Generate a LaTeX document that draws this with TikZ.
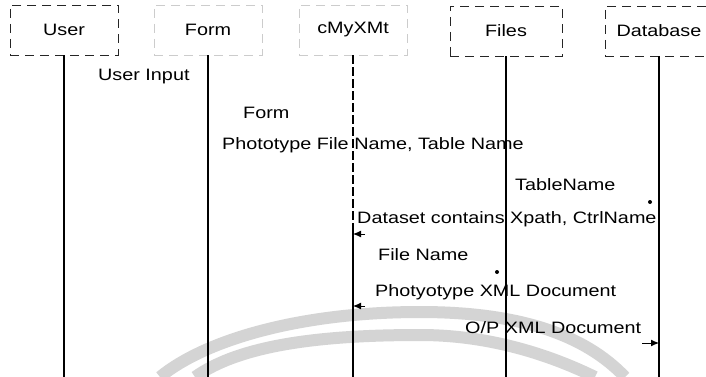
\documentclass[tikz,border=0pt]{standalone}
\usepackage{fontspec}
\setmainfont{Liberation Sans}
\usetikzlibrary{arrows.meta}
% labels are set slightly widened
\newcommand{\wtxt}[1]{\scalebox{1.2}[1]{#1}}
\begin{document}
\begin{tikzpicture}[x=1pt,y=-1pt,
  lbl/.style={font=\fontsize{16.5}{19}\selectfont, inner sep=0pt},
  msglbl/.style={lbl, anchor=west},
  head/.style={lbl, draw=black!85, line width=0.8pt, dash pattern=on 9pt off 6pt,
               minimum width=108pt, minimum height=50pt},
  faint/.style={draw=black!20},
  life/.style={line width=1.2pt},
  tip/.style={-{Latex[length=8pt,width=7pt]}, line width=1pt},
  watermark/.style={black!17, line width=12pt}
]
\useasboundingbox (0,0) rectangle (706,377);
\clip (0,0) rectangle (706,377);
\fill[white] (0,0) rectangle (706,377);

% watermark arcs in the background
\draw[watermark] (160,377) .. controls (205,340) and (300,312) .. (420,312)
                 .. controls (520,312) and (585,335) .. (625,377);
\draw[watermark] (195,377) .. controls (240,345) and (320,335) .. (420,335)
                 .. controls (490,335) and (550,355) .. (595,377);

% participants
\node[head] (user) at (64,30) {\wtxt{User}};
\node[head, faint] (form) at (208,30) {\wtxt{Form}};
\node[head, faint] (cmy) at (353,30) {\wtxt{cMyXMt}};
\node[head, minimum width=112pt] (files) at (506,31) {\wtxt{Files}};
\node[head] (db) at (659,31) {\wtxt{Database}};

% lifelines
\coordinate (bottom) at (0,377);
\coordinate (cmybrk) at (353,232);
\draw[life] (user.south) -- (user.south |- bottom);
\draw[life] (form.south) -- (form.south |- bottom);
\draw[life, dash pattern=on 9pt off 3pt] (cmy.south) -- (cmybrk);
\draw[life] (cmybrk) -- (cmybrk |- bottom);
\draw[life] (files.south) -- (files.south |- bottom);
\draw[life] (db.south) -- (db.south |- bottom);

% message labels
\node[msglbl] (m1) at (98,77)  {\wtxt{User Input}};
\node[msglbl] (m2) at (243,113) {\wtxt{Form}};
\node[msglbl] (m3) at (222,145) {\wtxt{Phototype File Name, Table Name}};
\node[msglbl] (m4) at (515,185) {\wtxt{TableName}};
\node[msglbl] (m5) at (357,219) {\wtxt{Dataset contains Xpath, CtrlName}};
\node[msglbl] (m6) at (378,255) {\wtxt{File Name}};
\node[msglbl] (m7) at (375,292) {\wtxt{Photyotype XML Document}};
\node[msglbl] (m8) at (465,328) {\wtxt{O/P XML Document}};

% arrow ends on the lifelines
\coordinate (t5) at (365,234);
\draw[tip] (t5) -- (t5 -| cmy);
\coordinate (t7) at (365,306);
\draw[tip] (t7) -- (t7 -| cmy);
\coordinate (t8) at (642,343);
\draw[tip] (t8) -- (t8 -| db);
\coordinate (d4) at (650,202);
\fill (d4) circle[radius=2pt];
\coordinate (d6) at (497,272);
\fill (d6) circle[radius=2pt];
\end{tikzpicture}
\end{document}
